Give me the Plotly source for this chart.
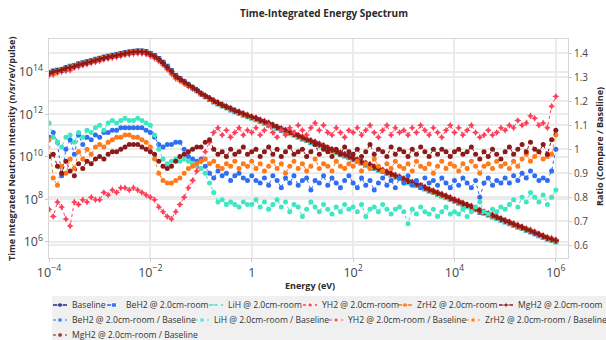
import numpy as np
import plotly.graph_objects as go

# Energy bin grid (12 bins per decade, 1e-4 eV .. 1e6 eV)
energy_eV = np.logspace(-4, 6, 121)

# Baseline spectrum as log10(intensity)
baseline_log10 = [
    13.95, 14.01, 14.07, 14.13, 14.19, 14.25, 14.31, 14.36, 14.42, 14.47, 14.52, 14.57,
    14.62, 14.67, 14.71, 14.75, 14.79, 14.83, 14.87, 14.90, 14.93, 14.95, 14.95, 14.92,
    14.84, 14.75, 14.62, 14.45, 14.26, 14.05, 13.82, 13.68, 13.54, 13.40, 13.27, 13.14,
    12.98, 12.86, 12.75, 12.64, 12.54, 12.45, 12.36, 12.27, 12.18, 12.10, 12.02, 11.95,
    11.88, 11.81, 11.73, 11.65, 11.57, 11.49, 11.40, 11.32, 11.24, 11.16, 11.08, 11.00,
    10.91, 10.83, 10.75, 10.67, 10.59, 10.51, 10.42, 10.34, 10.26, 10.18, 10.10, 10.02,
    9.93, 9.85, 9.77, 9.69, 9.61, 9.53, 9.44, 9.36, 9.28, 9.20, 9.12, 9.04,
    8.95, 8.87, 8.79, 8.71, 8.63, 8.55, 8.46, 8.38, 8.30, 8.22, 8.14, 8.06,
    7.97, 7.89, 7.81, 7.73, 7.65, 7.57, 7.48, 7.40, 7.32, 7.24, 7.16, 7.08,
    6.99, 6.91, 6.83, 6.75, 6.67, 6.59, 6.50, 6.42, 6.34, 6.26, 6.18, 6.10,
    6.01,
]

# Ratios (compare / baseline)
ratio_BeH2 = [
    1.05, 1.07, 1.03, 0.89, 1.00, 1.04, 0.98, 1.06, 1.02, 1.05, 1.04, 1.06,
    1.05, 1.07, 1.07, 1.08, 1.08, 1.09, 1.09, 1.09, 1.09, 1.09, 1.09, 1.08,
    1.07, 1.05, 1.02, 1.01, 1.02, 1.02, 1.03, 1.03, 1.00, 0.97, 0.96, 0.95,
    0.96, 0.93, 0.90, 0.88, 0.91, 0.89, 0.90, 0.87, 0.89, 0.90, 0.88, 0.87,
    0.89, 0.87, 0.86, 0.88, 0.85, 0.89, 0.87, 0.84, 0.88, 0.86, 0.89, 0.85,
    0.87, 0.88, 0.83, 0.87, 0.86, 0.89, 0.85, 0.88, 0.86, 0.84, 0.87, 0.89,
    0.86, 0.84, 0.88, 0.85, 0.87, 0.83, 0.86, 0.88, 0.85, 0.87, 0.84, 0.88,
    0.86, 0.89, 0.85, 0.87, 0.84, 0.88, 0.86, 0.87, 0.85, 0.88, 0.86, 0.84,
    0.87, 0.85, 0.88, 0.86, 0.84, 0.87, 0.80, 0.86, 0.88, 0.85, 0.87, 0.86,
    0.88, 0.86, 0.89, 0.87, 0.90, 0.88, 0.91, 0.89, 0.87, 0.88, 0.87, 0.91,
    1.00,
]
ratio_LiH = [
    1.11, 1.05, 1.03, 1.01, 1.05, 1.06, 1.03, 1.07, 1.05, 1.08, 1.07, 1.09,
    1.10, 1.08, 1.11, 1.12, 1.11, 1.12, 1.13, 1.12, 1.12, 1.13, 1.12, 1.11,
    1.10, 1.06, 1.00, 0.96, 0.94, 0.95, 0.96, 0.95, 0.96, 0.95, 0.94, 0.93,
    0.92, 0.90, 0.86, 0.82, 0.78, 0.79, 0.77, 0.78, 0.77, 0.76, 0.78, 0.77,
    0.77, 0.79, 0.76, 0.78, 0.75, 0.77, 0.79, 0.76, 0.78, 0.74, 0.77, 0.76,
    0.72, 0.75, 0.78, 0.76, 0.74, 0.77, 0.75, 0.73, 0.76, 0.74, 0.77, 0.75,
    0.76, 0.74, 0.77, 0.72, 0.75, 0.76, 0.74, 0.77, 0.75, 0.73, 0.75, 0.76,
    0.74, 0.69, 0.75, 0.73, 0.76, 0.74, 0.73, 0.75, 0.72, 0.74, 0.76, 0.73,
    0.74, 0.73, 0.75, 0.72, 0.74, 0.76, 0.78, 0.74, 0.73, 0.75, 0.74, 0.76,
    0.75, 0.77, 0.79, 0.76, 0.80, 0.78, 0.82, 0.80, 0.78, 0.81, 0.77, 0.80,
    0.83,
]
ratio_YH2 = [
    0.75, 0.72, 0.78, 0.76, 0.71, 0.68, 0.78, 0.77, 0.79, 0.78, 0.80, 0.79,
    0.79, 0.82, 0.81, 0.83, 0.82, 0.84, 0.84, 0.83, 0.84, 0.83, 0.82, 0.81,
    0.80, 0.79, 0.76, 0.74, 0.72, 0.71, 0.74, 0.77, 0.80, 0.84, 0.87, 0.91,
    0.95, 0.99, 1.03, 1.07, 1.09, 1.06, 1.08, 1.05, 1.07, 1.09, 1.06, 1.08,
    1.07, 1.09, 1.06, 1.08, 1.10, 1.07, 1.05, 1.08, 1.06, 1.09, 1.07, 1.10,
    1.08, 1.06, 1.09, 1.11, 1.08, 1.10, 1.07, 1.06, 1.09, 1.07, 1.05, 1.08,
    1.07, 1.09, 1.06, 1.08, 1.10, 1.07, 1.05, 1.08, 1.10, 1.06, 1.09, 1.07,
    1.08, 1.06, 1.09, 1.07, 1.10, 1.08, 1.06, 1.09, 1.07, 1.05, 1.08, 1.10,
    1.07, 1.09, 1.06, 1.08, 1.10, 1.07, 1.05, 1.06, 1.08, 1.06, 1.07, 1.09,
    1.08, 1.10, 1.09, 1.12, 1.10, 1.11, 1.14, 1.13, 1.10, 1.11, 1.09, 1.18,
    1.22,
]
ratio_ZrH2 = [
    1.04, 0.88, 0.85, 0.93, 0.90, 0.96, 0.92, 0.99, 0.96, 1.00, 0.98, 1.01,
    1.02, 1.01, 1.03, 1.04, 1.05, 1.05, 1.06, 1.06, 1.05, 1.05, 1.04, 1.03,
    1.01, 0.96, 0.90, 0.87, 0.86, 0.86, 0.87, 0.88, 0.90, 0.92, 0.93, 0.94,
    0.95, 0.96, 0.94, 0.95, 0.93, 0.92, 0.94, 0.93, 0.95, 0.92, 0.94, 0.93,
    0.95, 0.92, 0.94, 0.91, 0.93, 0.95, 0.92, 0.94, 0.90, 0.93, 0.95, 0.92,
    0.94, 0.91, 0.93, 0.96, 0.92, 0.94, 0.93, 0.91, 0.95, 0.93, 0.92, 0.94,
    0.93, 0.95, 0.91, 0.94, 0.92, 0.96, 0.93, 0.91, 0.94, 0.92, 0.95, 0.93,
    0.92, 0.94, 0.91, 0.95, 0.93, 0.92, 0.94, 0.90, 0.93, 0.95, 0.92, 0.94,
    0.93, 0.91, 0.94, 0.92, 0.95, 0.93, 0.90, 0.93, 0.94, 0.92, 0.95, 0.93,
    0.94, 0.92, 0.95, 0.93, 0.96, 0.98, 0.95, 0.97, 0.99, 0.96, 0.97, 0.98,
    1.06,
]
ratio_MgH2 = [
    0.97, 0.98, 0.93, 0.90, 0.95, 0.91, 0.89, 0.94, 0.92, 0.95, 0.94, 0.96,
    0.97, 0.96, 0.98, 0.99, 0.99, 1.00, 1.01, 1.02, 1.02, 1.02, 1.01, 1.00,
    0.99, 0.98, 0.95, 0.93, 0.92, 0.93, 0.95, 0.97, 0.98, 0.99, 1.00, 1.01,
    1.01, 1.03, 1.04, 1.00, 0.98, 0.99, 0.97, 1.00, 0.98, 0.99, 1.01, 0.98,
    0.99, 1.00, 0.97, 0.99, 1.01, 0.98, 1.00, 0.97, 0.99, 1.01, 0.98, 0.99,
    1.00, 0.97, 0.99, 1.02, 0.98, 1.00, 0.99, 0.97, 1.00, 0.98, 1.01, 0.99,
    0.98, 1.00, 0.97, 0.99, 1.02, 0.98, 1.00, 0.99, 0.97, 1.01, 0.98, 1.00,
    0.99, 0.97, 1.00, 0.98, 1.01, 0.99, 0.97, 1.00, 0.98, 1.00, 0.99, 0.97,
    0.99, 1.00, 0.98, 0.99, 1.01, 0.98, 0.96, 0.99, 0.97, 1.00, 0.98, 0.96,
    0.99, 1.01, 0.98, 1.00, 1.02, 0.99, 1.03, 1.00, 0.99, 1.02, 0.98, 1.04,
    1.08,
]

materials = ["BeH2", "LiH", "YH2", "ZrH2", "MgH2"]
ratios = [ratio_BeH2, ratio_LiH, ratio_YH2, ratio_ZrH2, ratio_MgH2]
suffix = " @ 2.0cm-room"

colors = {"Baseline": "#2a2a88", "BeH2": "#2f6ef2", "LiH": "#3ee6c4",
          "YH2": "#ff3f5a", "ZrH2": "#ff7a1a", "MgH2": "#8b1a1a"}
spec_style = {
    "Baseline": dict(dash="solid", symbol="circle"),
    "BeH2": dict(dash="dash", symbol="square"),
    "LiH": dict(dash="dashdot", symbol="triangle-up"),
    "YH2": dict(dash="dot", symbol="star-diamond"),
    "ZrH2": dict(dash="solid", symbol="circle"),
    "MgH2": dict(dash="solid", symbol="cross"),
}

W, H = 606, 340
# plot area in pixels
PL, PR, PT, PB = 49, 568, 39, 258
LEG_FONT = 8.6

baseline = np.power(10.0, np.array(baseline_log10))

fig = go.Figure()
fig.add_trace(go.Scatter(
    x=energy_eV, y=baseline, name="Baseline", mode="lines+markers",
    line=dict(color=colors["Baseline"], width=1.5),
    marker=dict(symbol="circle", size=5, color=colors["Baseline"]),
    xaxis="x", yaxis="y"))
for m, r in zip(materials, ratios):
    st = spec_style[m]
    fig.add_trace(go.Scatter(
        x=energy_eV, y=baseline * np.array(r), name=m + suffix, mode="lines+markers",
        line=dict(color=colors[m], width=1.5, dash=st["dash"]),
        marker=dict(symbol=st["symbol"], size=5, color=colors[m]),
        xaxis="x", yaxis="y"))
for m, r in zip(materials, ratios):
    sym = "star-diamond" if m == "YH2" else "circle"
    fig.add_trace(go.Scatter(
        x=energy_eV, y=r, name=m + suffix + " / Baseline", mode="lines+markers",
        line=dict(color=colors[m], width=1, dash="dot"),
        marker=dict(symbol=sym, size=5, color=colors[m]),
        xaxis="x", yaxis="y2"))

# ---- compact legend (drawn on a hidden pixel-scaled axis pair) ----
legend_rows = [305, 320, 335]
legend_items = [
    ("Baseline", "Baseline", False, 53, 0),
    ("BeH2", "BeH2" + suffix, False, 107, 0),
    ("LiH", "LiH" + suffix, False, 209, 0),
    ("YH2", "YH2" + suffix, False, 303, 0),
    ("ZrH2", "ZrH2" + suffix, False, 398, 0),
    ("MgH2", "MgH2" + suffix, False, 499, 0),
    ("BeH2", "BeH2" + suffix + " / Baseline", True, 53, 1),
    ("LiH", "LiH" + suffix + " / Baseline", True, 195, 1),
    ("YH2", "YH2" + suffix + " / Baseline", True, 329, 1),
    ("ZrH2", "ZrH2" + suffix + " / Baseline", True, 466, 1),
    ("MgH2", "MgH2" + suffix + " / Baseline", True, 53, 2),
]
annotations = []
for key, label, is_ratio, x0, row in legend_items:
    yrow = legend_rows[row]
    dash = "dot" if is_ratio else spec_style[key]["dash"]
    if is_ratio:
        sym = "star-diamond" if key == "YH2" else "circle"
    else:
        sym = spec_style[key]["symbol"]
    fig.add_trace(go.Scatter(
        x=[x0, x0 + 7, x0 + 14], y=[yrow, yrow, yrow], mode="lines+markers",
        line=dict(color=colors[key], width=1.5 if not is_ratio else 1, dash=dash),
        marker=dict(symbol=sym, size=[0, 5, 0], color=colors[key]),
        xaxis="x3", yaxis="y3", showlegend=False, hoverinfo="skip"))
    annotations.append(dict(
        text=label, xref="x3", yref="y3", x=x0 + 17, y=yrow,
        xanchor="left", yanchor="middle", showarrow=False,
        font=dict(size=LEG_FONT, color="#333")))

# axis titles
annotations.append(dict(text="<b>Energy (eV)</b>", xref="paper", yref="paper",
                        x=310 / W, y=1 - 285 / H, xanchor="center", yanchor="middle",
                        showarrow=False, font=dict(size=9, color="#2a2a2a")))
annotations.append(dict(text="<b>Time Integrated Neutron Intensity (n/sr/eV/pulse)</b>",
                        xref="paper", yref="paper", x=11 / W, y=1 - 149 / H,
                        xanchor="center", yanchor="middle", textangle=-90,
                        showarrow=False, font=dict(size=9, color="#2a2a2a")))
annotations.append(dict(text="<b>Ratio (Compare / Baseline)</b>",
                        xref="paper", yref="paper", x=599 / W, y=1 - 147 / H,
                        xanchor="center", yanchor="middle", textangle=-90,
                        showarrow=False, font=dict(size=9, color="#2a2a2a")))

grid = "#ebebeb"
axis_common = dict(showgrid=True, gridcolor=grid, gridwidth=1.5,
                   showline=True, linecolor="#d6d6d6", ticks="outside",
                   ticklen=3, tickcolor="#cccccc",
                   tickfont=dict(size=10, color="#444"))

fig.update_layout(
    width=W, height=H,
    margin=dict(l=0, r=0, t=0, b=0, pad=0, autoexpand=False),
    paper_bgcolor="white", plot_bgcolor="rgba(0,0,0,0)",
    font=dict(family="Open Sans, Noto Sans, sans-serif", color="#333"),
    showlegend=False, hovermode=False,
    title=dict(text="<b>Time-Integrated Energy Spectrum</b>", x=324 / W,
               xref="container", xanchor="center", y=1 - 13 / H,
               yref="container", yanchor="middle", font=dict(size=10, color="#2a2a2a")),
    xaxis=dict(type="log", range=[-4.0, 6.24], dtick=2, exponentformat="power",
               domain=[PL / W, PR / W], anchor="y", mirror=True, **axis_common),
    yaxis=dict(type="log", range=[5.23, 15.55], dtick=2, exponentformat="power",
               domain=[1 - PB / H, 1 - PT / H], anchor="x", **axis_common),
    yaxis2=dict(overlaying="y", side="right", anchor="x", range=[0.547, 1.46],
                tickvals=[0.6, 0.7, 0.8, 0.9, 1.0, 1.1, 1.2, 1.3, 1.4],
                ticktext=["0.6", "0.7", "0.8", "0.9", "1", "1.1", "1.2", "1.3", "1.4"],
                **axis_common),
    xaxis3=dict(domain=[0, 1], range=[0, W], anchor="y3", visible=False,
                fixedrange=True),
    yaxis3=dict(domain=[0, 1], range=[H, 0], anchor="x3", visible=False,
                fixedrange=True),
    shapes=[dict(type="rect", xref="x3", yref="y3", x0=52, x1=W, y0=296, y1=H,
                 fillcolor="#f0f0f0", line=dict(width=0), layer="below")],
    annotations=annotations,
)

fig.write_html("out.html", config={"displayModeBar": False},
               post_script="document.body.style.margin='0';")
